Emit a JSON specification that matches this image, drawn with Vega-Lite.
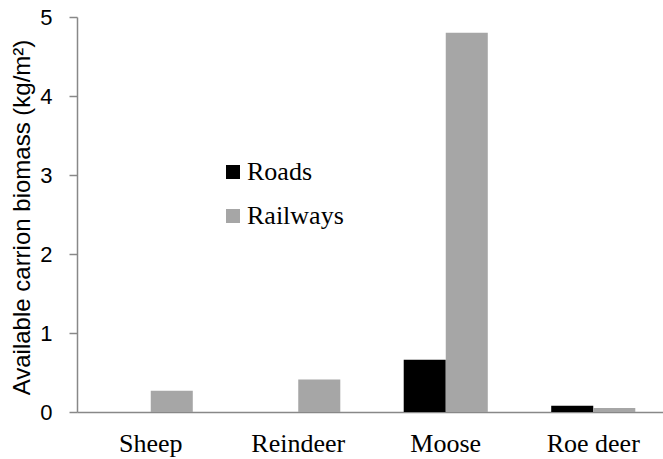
{
  "$schema": "https://vega.github.io/schema/vega-lite/v6.json",
  "width": 590,
  "height": 395,
  "autosize": "none",
  "padding": {"left": 77, "top": 17, "right": 0, "bottom": 47},
  "background": "white",
  "data": {
    "values": [
      {"species": "Sheep", "type": "Roads", "biomass": 0},
      {"species": "Sheep", "type": "Railways", "biomass": 0.27},
      {"species": "Reindeer", "type": "Roads", "biomass": 0},
      {"species": "Reindeer", "type": "Railways", "biomass": 0.41},
      {"species": "Moose", "type": "Roads", "biomass": 0.66},
      {"species": "Moose", "type": "Railways", "biomass": 4.8},
      {"species": "Roe deer", "type": "Roads", "biomass": 0.08},
      {"species": "Roe deer", "type": "Railways", "biomass": 0.05}
    ]
  },
  "mark": {"type": "bar"},
  "encoding": {
    "x": {
      "field": "species",
      "type": "nominal",
      "sort": ["Sheep", "Reindeer", "Moose", "Roe deer"],
      "scale": {"paddingInner": 0.43, "paddingOuter": 0.215},
      "axis": {
        "title": null,
        "labelAngle": 0,
        "labelFont": "Liberation Serif",
        "labelFontSize": 26,
        "labelColor": "black",
        "labelPadding": 18,
        "ticks": false,
        "domainColor": "#888888",
        "domainWidth": 1.5
      }
    },
    "xOffset": {
      "field": "type",
      "type": "nominal",
      "sort": ["Roads", "Railways"]
    },
    "y": {
      "field": "biomass",
      "type": "quantitative",
      "scale": {"domain": [0, 5], "nice": false},
      "axis": {
        "title": "Available carrion biomass (kg/m²)",
        "titleFont": "Liberation Sans",
        "titleFontSize": 24,
        "titleFontWeight": "normal",
        "titleColor": "black",
        "titleX": -55,
        "titleY": 200,
        "titleAngle": -90,
        "titleAlign": "center",
        "titleBaseline": "middle",
        "values": [0, 1, 2, 3, 4, 5],
        "labelFont": "Liberation Sans",
        "labelFontSize": 22,
        "labelColor": "black",
        "labelPadding": 17,
        "grid": false,
        "tickSize": 8,
        "tickColor": "#888888",
        "domainColor": "#888888",
        "domainWidth": 1.5,
        "tickWidth": 1.5
      }
    },
    "color": {
      "field": "type",
      "type": "nominal",
      "sort": ["Roads", "Railways"],
      "scale": {"domain": ["Roads", "Railways"], "range": ["#000000", "#a6a6a6"]},
      "legend": {
        "title": null,
        "orient": "none",
        "legendX": 143,
        "legendY": 142,
        "symbolType": "square",
        "symbolSize": 196,
        "symbolStrokeWidth": 0,
        "labelFont": "Liberation Serif",
        "labelFontSize": 26,
        "labelColor": "black",
        "labelOffset": 1,
        "rowPadding": 18
      }
    }
  },
  "config": {"view": {"stroke": null}}
}
